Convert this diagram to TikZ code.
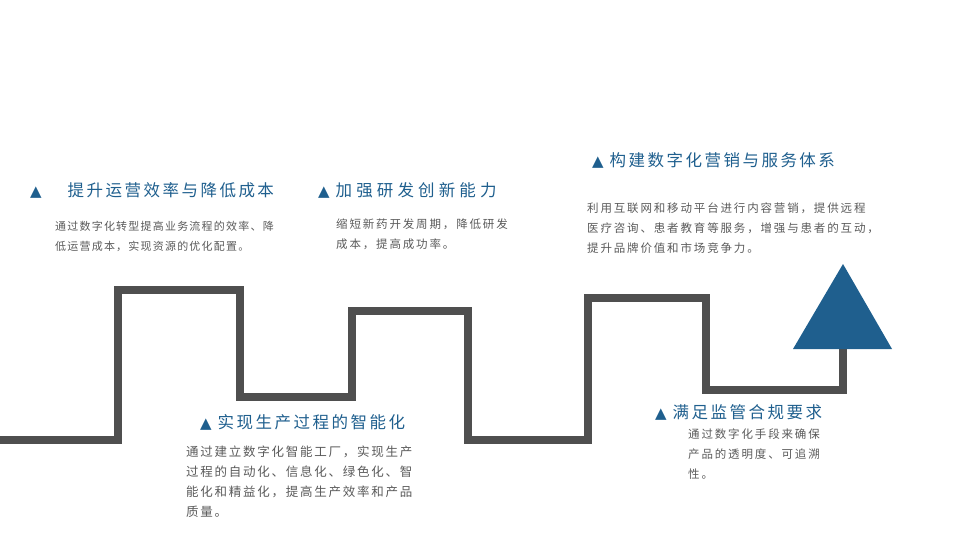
\documentclass[tikz,border=0pt]{standalone}
\usepackage{fontspec}
\newfontfamily\titf{Noto Sans CJK SC}[LetterSpace=15]
\newfontfamily\bodf{Noto Sans CJK SC}
\newfontfamily\symf{DejaVu Sans}
\definecolor{tblue}{HTML}{1F5F8E}
\definecolor{tgray}{HTML}{5A5A5A}
\definecolor{lgray}{HTML}{4F4F4F}
\tikzset{
 ttl/.style={anchor=west,inner sep=0pt,text=tblue,font=\titf\fontsize{16.5}{18}\selectfont},
 bod/.style={anchor=north west,inner sep=0pt,text=tgray,align=left},
 stepline/.style={draw=lgray,line width=7.5pt,line join=miter}
}
\newcommand{\bfnt}[2]{\bodf\addfontfeatures{LetterSpace=#2}\fontsize{#1}{20}\selectfont}
\newcommand{\tri}{{\symf\fontsize{15}{18}\selectfont ▲}}
\begin{document}
\begin{tikzpicture}[x=1pt,y=-1pt]
\useasboundingbox (0,0) rectangle (960,540);
\coordinate (s0) at (0,440);
\coordinate (s1) at (843,348);
\draw[stepline] (s0) -- (118,440) -- (118,290) -- (240,290) -- (240,397) -- (352,397) -- (352,311) -- (468,311) -- (468,440) -- (588,440) -- (588,298) -- (706,298) -- (706,390) -- (843,390) -- (s1);
\fill[tblue] (843,264) coordinate (apex) -- (892,349) -- (793,349) -- cycle;

\node[ttl] (t1) at (30,190) {\tri\hspace{26pt}提升运营效率与降低成本};
\node[bod,font=\bfnt{11}{11}] (b1) at (55,221) {通过数字化转型提高业务流程的效率、降\\低运营成本，实现资源的优化配置。};

\node[ttl,font=\titf\addfontfeatures{LetterSpace=25}\fontsize{16.5}{18}\selectfont] (t2) at (318,190) {\tri\hspace{6pt}加强研发创新能力};
\node[bod,font=\bfnt{11.5}{16}] (b2) at (336,219) {缩短新药开发周期，降低研发\\成本，提高成功率。};

\node[ttl] (t3) at (592,160) {\tri\hspace{6pt}构建数字化营销与服务体系};
\node[bod,font=\bfnt{11.5}{16}] (b3) at (587,203) {利用互联网和移动平台进行内容营销，提供远程\\医疗咨询、患者教育等服务，增强与患者的互动，\\提升品牌价值和市场竞争力。};

\node[ttl] (t4) at (200,422) {\tri\hspace{6pt}实现生产过程的智能化};
\node[bod,font=\bfnt{12.5}{14}] (b4) at (186,446) {通过建立数字化智能工厂，实现生产\\过程的自动化、信息化、绿色化、智\\能化和精益化，提高生产效率和产品\\质量。};

\node[ttl] (t5) at (655,412) {\tri\hspace{6pt}满足监管合规要求};
\node[bod,font=\bfnt{11.5}{16}] (b5) at (688,429) {通过数字化手段来确保\\产品的透明度、可追溯\\性。};
\end{tikzpicture}
\end{document}
